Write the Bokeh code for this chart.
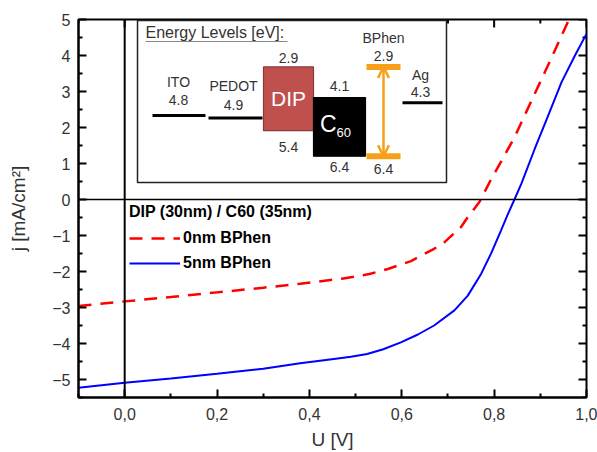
from bokeh.plotting import figure
from bokeh.models import (Range1d, Span, Legend, LegendItem, FixedTicker,
                          CustomJSTickFormatter, Arrow, OpenHead)
from bokeh.core.properties import value
from bokeh.embed import file_html
from bokeh.resources import INLINE

# ---------------- data ----------------
v_0nm = [-0.1, 0.0, 0.1, 0.2, 0.3, 0.38, 0.47, 0.53, 0.57, 0.62, 0.67, 0.692, 0.728, 0.743,
         0.768, 0.793, 0.815, 0.845, 0.88, 0.92, 0.962]
j_0nm = [-2.96, -2.83, -2.71, -2.58, -2.45, -2.34, -2.20, -2.07, -1.93, -1.71, -1.37, -1.19, -0.77, -0.49,
         -0.07, 0.55, 1.05, 1.75, 2.72, 3.82, 5.0]

v_5nm = [-0.1, 0.0, 0.1, 0.2, 0.3, 0.38, 0.453, 0.49, 0.525, 0.56, 0.598, 0.635, 0.67, 0.714, 0.743, 0.772,
         0.793, 0.815, 0.830, 0.844, 0.859, 0.888, 0.917, 0.946, 0.975, 1.0]
j_5nm = [-5.23, -5.09, -4.97, -4.84, -4.70, -4.55, -4.43, -4.37, -4.29, -4.16, -3.97, -3.75, -3.50, -3.08, -2.67, -2.06,
         -1.51, -0.86, -0.40, 0.0, 0.44, 1.41, 2.33, 3.26, 4.0, 4.6]

series_labels = ["0nm BPhen", "5nm BPhen"]
legend_title = "DIP (30nm) / C60 (35nm)"

x_ticks = [0.0, 0.2, 0.4, 0.6, 0.8, 1.0]
x_minor = [-0.1, 0.1, 0.3, 0.5, 0.7, 0.9]
y_ticks = [-5, -4, -3, -2, -1, 0, 1, 2, 3, 4, 5]
y_minor = [-5.5, -4.5, -3.5, -2.5, -1.5, -0.5, 0.5, 1.5, 2.5, 3.5, 4.5]

# energy level diagram (eV)
electrode_names = ["ITO", "PEDOT", "Ag"]
electrode_eV = [4.8, 4.9, 4.3]
organic_names = ["DIP", "C60"]
organic_top_eV = [2.9, 4.1]
organic_bottom_eV = [5.4, 6.4]
bphen_top_eV = 2.9
bphen_bottom_eV = 6.4

# ---------------- layout (inset, image pixels) ----------------
electrode_x0 = [152, 208, 402]
electrode_x1 = [205, 262, 442]
electrode_tx = [178, 233, 420]
electrode_name_dy = [-33, -32, -28]
electrode_val_dy = [-15, -13, -11]
organic_x0 = [263, 313]
organic_x1 = [313, 365]
organic_colors = ["#c0504d", "#000000"]
organic_lines = ["#8c3836", "#000000"]
bphen_x0, bphen_x1, bphen_xc = 366, 400, 383

FONT_NAME = "Liberation Sans"
FONT = value(FONT_NAME)
TXT = "#333333"
ORANGE = "#f6a01a"

p = figure(width=597, height=452, x_range=Range1d(-0.1, 1.0), y_range=Range1d(-5.5, 5.0),
           output_backend="svg", toolbar_location=None,
           min_border_left=78, min_border_right=11, min_border_top=19, min_border_bottom=55)
p.grid.visible = False
p.outline_line_color = "black"
p.outline_line_width = 2
p.background_fill_color = "white"
p.border_fill_color = "white"

# pixel / energy ranges for the inset and mirrored ticks
p.extra_x_ranges = {"px": Range1d(78, 586)}
p.extra_y_ranges = {"px": Range1d(397, 19), "eV": Range1d(15.862, 1.039)}

def style_axis(ax, ticks, minor):
    ax.ticker = FixedTicker(ticks=ticks, minor_ticks=minor)
    ax.axis_line_width = 2
    ax.axis_line_color = "black"
    ax.major_tick_in = 8
    ax.major_tick_out = 0
    ax.minor_tick_in = 4
    ax.minor_tick_out = 0
    ax.major_tick_line_width = 2
    ax.minor_tick_line_width = 2
    ax.major_tick_line_color = "black"
    ax.minor_tick_line_color = "black"
    ax.major_label_text_font = FONT_NAME
    ax.major_label_text_font_size = "16px"
    ax.major_label_text_color = TXT
    ax.axis_label_text_font = FONT_NAME
    ax.axis_label_text_font_size = "19px"
    ax.axis_label_text_font_style = "normal"
    ax.axis_label_text_color = TXT

style_axis(p.xaxis[0], x_ticks, x_minor)
style_axis(p.yaxis[0], y_ticks, y_minor)
p.xaxis[0].formatter = CustomJSTickFormatter(code="return tick.toFixed(1).replace('.', ',');")
p.xaxis[0].axis_label = "U [V]"
p.xaxis[0].major_label_standoff = 10
p.xaxis[0].axis_label_standoff = 6
p.yaxis[0].axis_label = "j [mA/cm²]"
p.yaxis[0].major_label_standoff = 8
p.yaxis[0].axis_label_standoff = 20

# mirrored inner ticks on top and right edges
p.segment(x0=x_ticks, x1=x_ticks, y0=[19] * len(x_ticks), y1=[27] * len(x_ticks),
          y_range_name="px", line_color="black", line_width=2)
p.segment(x0=x_minor, x1=x_minor, y0=[19] * len(x_minor), y1=[23] * len(x_minor),
          y_range_name="px", line_color="black", line_width=2)
p.segment(x0=[586] * len(y_ticks), x1=[578] * len(y_ticks), y0=y_ticks, y1=y_ticks,
          x_range_name="px", line_color="black", line_width=2)
p.segment(x0=[586] * len(y_minor), x1=[582] * len(y_minor), y0=y_minor, y1=y_minor,
          x_range_name="px", line_color="black", line_width=2)

p.add_layout(Span(location=0, dimension="height", line_color="black", line_width=2))
p.add_layout(Span(location=0, dimension="width", line_color="black", line_width=1.5))

r0 = p.line(v_0nm, j_0nm, line_color="#ff0000", line_width=2.5, line_dash="13 9")
r5 = p.line(v_5nm, j_5nm, line_color="#0000ff", line_width=2)

legend = Legend(items=[LegendItem(label=series_labels[0], renderers=[r0]),
                       LegendItem(label=series_labels[1], renderers=[r5])],
                title=legend_title, location=(51, 123),
                title_text_font=FONT_NAME, title_text_font_size="16px", title_text_font_style="bold",
                title_text_color="black", title_standoff=6,
                label_text_font=FONT_NAME, label_text_font_size="16px", label_text_font_style="bold",
                label_text_color="black", glyph_width=51, glyph_height=20, label_height=22,
                spacing=3, label_standoff=3, padding=0, margin=0,
                border_line_color=None, background_fill_alpha=0)
p.add_layout(legend)

# ---------------- inset ----------------
kw_px = dict(x_range_name="px", y_range_name="px")
kw_ev = dict(x_range_name="px", y_range_name="eV")

p.quad(left=[137], right=[446], top=[20], bottom=[182], fill_color="white",
       line_color="#222222", line_width=1.5, **kw_px)
p.text(x=[145], y=[32], text=["Energy Levels [eV]:"], text_font=FONT, text_font_size="16px",
       text_color=TXT, text_baseline="middle", text_align="left", **kw_px)
p.segment(x0=[145], x1=[287], y0=[41], y1=[41], line_color="#888888", line_width=1.2, **kw_px)

# electrodes
p.segment(x0=electrode_x0, x1=electrode_x1, y0=electrode_eV, y1=electrode_eV,
          line_color="black", line_width=3, **kw_ev)
p.text(x=electrode_tx, y=electrode_eV, text=electrode_names, y_offset=electrode_name_dy,
       text_font=FONT, text_font_size="14px", text_color=TXT, text_align="center",
       text_baseline="middle", **kw_ev)
p.text(x=electrode_tx, y=electrode_eV, text=[f"{e:.1f}" for e in electrode_eV], y_offset=electrode_val_dy,
       text_font=FONT, text_font_size="14px", text_color=TXT, text_align="center",
       text_baseline="middle", **kw_ev)

# organic boxes
p.quad(left=organic_x0, right=organic_x1, top=organic_top_eV, bottom=organic_bottom_eV,
       fill_color=organic_colors, line_color=organic_lines, line_width=1.2, **kw_ev)
org_xc = [(a + b) / 2 for a, b in zip(organic_x0, organic_x1)]
p.text(x=org_xc, y=organic_top_eV, text=[f"{e:.1f}" for e in organic_top_eV], y_offset=[-9, -12],
       text_font=FONT, text_font_size="14px", text_color=TXT, text_align="center",
       text_baseline="middle", **kw_ev)
p.text(x=org_xc, y=organic_bottom_eV, text=[f"{e:.1f}" for e in organic_bottom_eV], y_offset=[16, 11],
       text_font=FONT, text_font_size="14px", text_color=TXT, text_align="center",
       text_baseline="middle", **kw_ev)
mid_dip = (organic_top_eV[0] + organic_bottom_eV[0]) / 2
mid_c60 = (organic_top_eV[1] + organic_bottom_eV[1]) / 2
p.text(x=[org_xc[0]], y=[mid_dip], text=[organic_names[0]], text_font=FONT, text_font_size="21px",
       text_color="white", text_align="center", text_baseline="middle", **kw_ev)
p.text(x=[org_xc[1] - 3], y=[mid_c60], text=["C"], y_offset=[-3], text_font=FONT, text_font_size="23px",
       text_color="white", text_align="right", text_baseline="middle", **kw_ev)
p.text(x=[org_xc[1] - 3], y=[mid_c60], text=[organic_names[1][1:]], y_offset=[6], text_font=FONT,
       text_font_size="13px", text_color="white", text_align="left", text_baseline="middle", **kw_ev)

# BPhen
p.segment(x0=[bphen_x0, bphen_x0], x1=[bphen_x1, bphen_x1], y0=[bphen_top_eV, bphen_bottom_eV],
          y1=[bphen_top_eV, bphen_bottom_eV], line_color=ORANGE, line_width=6, **kw_ev)
p.add_layout(Arrow(x_start=bphen_xc, x_end=bphen_xc, y_start=bphen_bottom_eV, y_end=bphen_top_eV,
                   line_color=ORANGE, line_width=2.5,
                   start=OpenHead(size=11, line_color=ORANGE, line_width=2.5),
                   end=OpenHead(size=11, line_color=ORANGE, line_width=2.5), **kw_ev))
p.text(x=[bphen_xc, bphen_xc], y=[bphen_top_eV, bphen_top_eV], text=["BPhen", f"{bphen_top_eV:.1f}"],
       y_offset=[-29, -11], text_font=FONT, text_font_size="14px", text_color=TXT,
       text_align="center", text_baseline="middle", **kw_ev)
p.text(x=[bphen_xc], y=[bphen_bottom_eV], text=[f"{bphen_bottom_eV:.1f}"], y_offset=[13],
       text_font=FONT, text_font_size="14px", text_color=TXT, text_align="center",
       text_baseline="middle", **kw_ev)

open("out.html", "w").write(file_html(p, INLINE))
